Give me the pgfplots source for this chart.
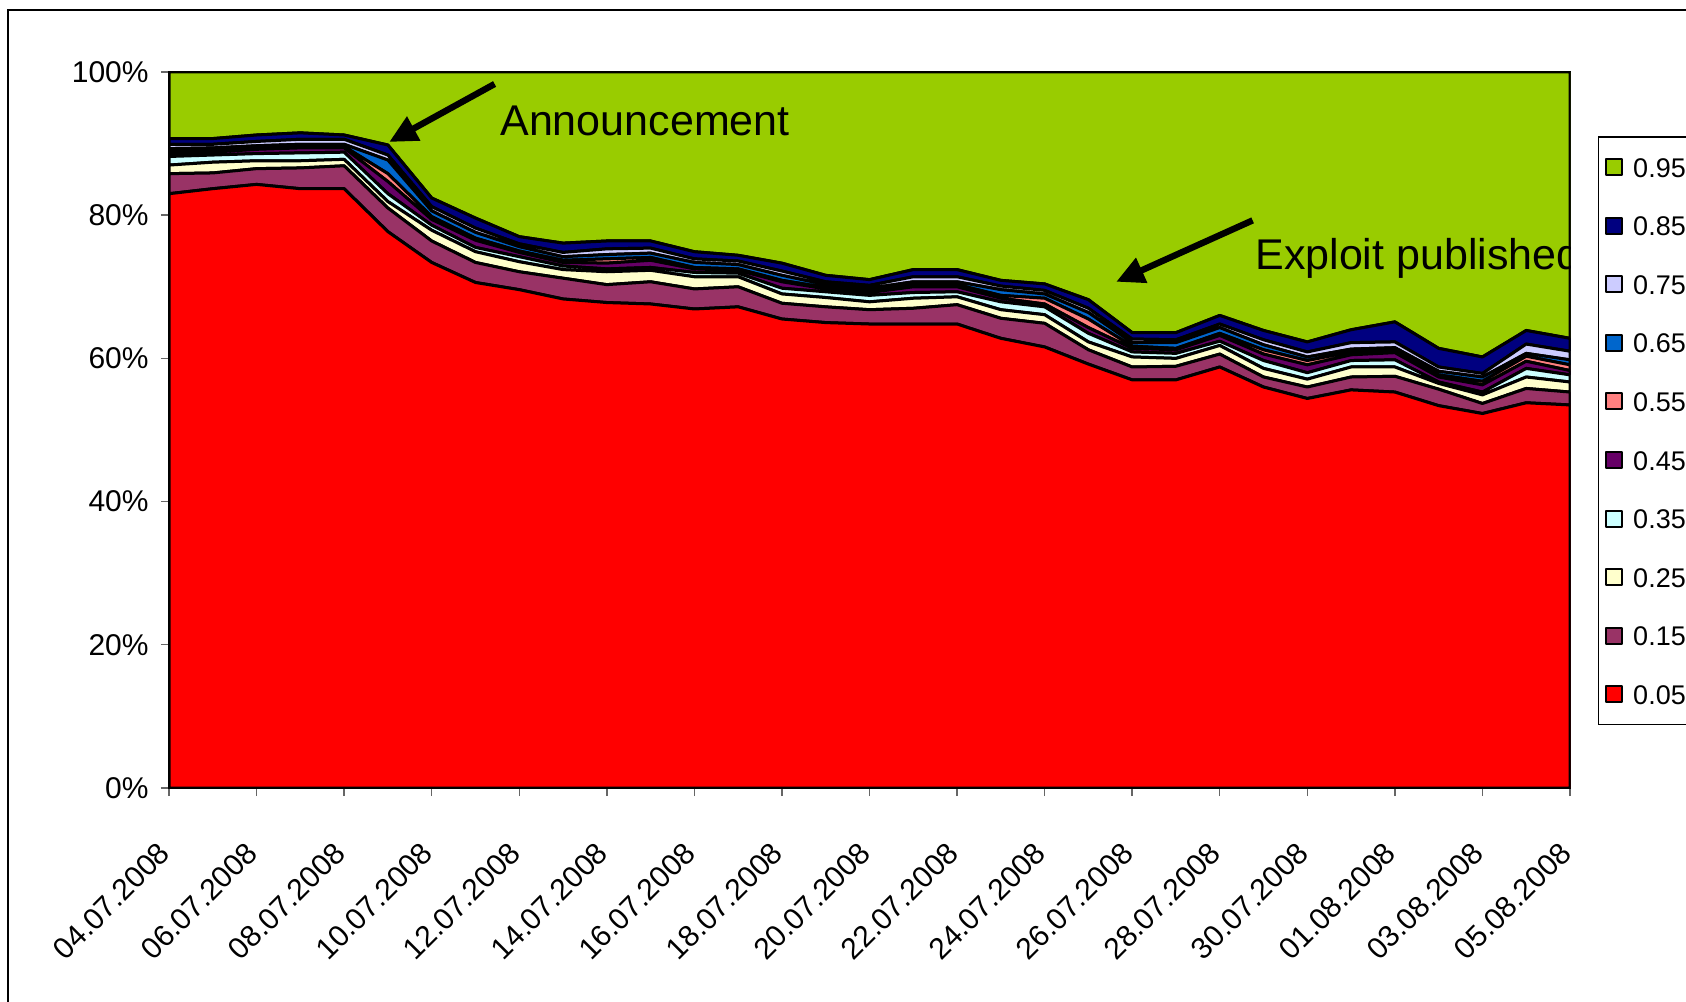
\documentclass[border=0pt]{standalone}
\usepackage{pgfplots}
\pgfplotsset{compat=1.18}
\usepackage{pgfplotstable}
\usepackage{fontspec}
\setmainfont{Liberation Sans}
\usetikzlibrary{arrows.meta}

\definecolor{c95}{HTML}{99CC00}
\definecolor{c85}{HTML}{000080}
\definecolor{c75}{HTML}{CCCCFF}
\definecolor{c65}{HTML}{0066CC}
\definecolor{c55}{HTML}{FF8080}
\definecolor{c45}{HTML}{660066}
\definecolor{c35}{HTML}{CCFFFF}
\definecolor{c25}{HTML}{FFFFCC}
\definecolor{c15}{HTML}{993366}
\definecolor{c05}{HTML}{FF0000}

\pgfplotstableread{
d r p c cy m s b l n g
0 83.0 2.8 1.2 1.2 0.4 0.4 0.3 0.6 0.8 9.3
1 83.7 2.2 1.5 1.0 0.4 0.3 0.3 0.5 0.8 9.3
2 84.3 2.2 1.1 1.0 0.6 0.2 0.3 0.6 0.9 8.8
3 83.7 2.9 1.0 1.1 0.7 0.2 0.3 0.7 0.9 8.5
4 83.7 3.2 0.9 1.0 0.6 0.2 0.3 0.7 0.6 8.8
5 77.7 3.3 0.9 1.1 1.7 1.1 1.9 0.7 1.4 10.2
6 73.4 3.0 1.5 0.7 0.8 0.4 0.8 0.6 1.2 17.6
7 70.6 2.8 1.5 0.6 1.0 0.3 0.8 0.6 1.4 20.4
8 69.6 2.5 1.4 0.7 0.6 0.2 0.6 0.4 1.0 23.0
9 68.3 2.9 1.2 0.5 0.5 0.3 0.5 0.6 1.3 23.9
10 67.8 2.5 1.8 0.4 0.8 0.6 0.6 0.8 1.1 23.6
11 67.6 3.1 1.6 0.4 1.0 0.4 0.6 0.7 1.0 23.6
12 66.9 2.8 1.7 0.6 0.5 0.2 0.7 0.5 1.0 25.1
13 67.2 2.8 1.4 0.5 0.4 0.2 0.6 0.5 0.8 25.6
14 65.5 2.2 1.3 0.8 0.9 0.2 0.7 0.6 1.1 26.7
15 65.0 2.2 1.3 0.8 0.4 0.2 0.4 0.4 0.9 28.4
16 64.8 2.0 1.1 0.9 0.4 0.2 0.4 0.4 0.8 29.0
17 64.8 2.2 1.4 0.8 0.8 0.3 0.4 0.7 1.0 27.6
18 64.8 2.7 1.1 0.7 0.7 0.3 0.4 0.7 1.0 27.6
19 62.8 2.8 1.2 1.1 0.5 0.4 0.8 0.5 0.8 29.1
20 61.6 3.3 1.2 1.1 0.4 0.8 0.6 0.5 0.9 29.6
21 59.2 2.0 1.1 1.2 0.8 1.2 0.9 0.6 1.2 31.8
22 57.0 1.8 1.4 0.7 0.5 0.3 0.5 0.5 0.9 36.4
23 57.0 1.9 1.1 0.7 0.5 0.2 0.8 0.4 1.0 36.4
24 58.8 1.8 1.2 0.6 0.8 0.3 0.8 0.5 1.2 34.0
25 56.0 1.4 1.2 1.1 0.9 0.6 0.7 0.7 1.3 36.1
26 54.4 1.6 1.1 0.9 1.1 0.6 0.5 0.7 1.4 37.7
27 55.6 1.8 1.4 0.9 0.8 0.4 0.4 0.9 1.8 36.0
28 55.3 2.2 1.3 1.0 1.0 0.4 0.3 0.8 2.8 34.9
29 53.4 2.3 0.8 0.2 0.7 0.3 0.5 0.6 2.6 38.6
30 52.3 1.4 1.2 0.4 1.0 0.5 0.6 0.5 2.3 39.8
31 53.8 2.0 1.6 1.2 1.0 0.7 0.4 1.3 1.9 36.1
32 53.5 1.8 1.4 1.0 0.6 0.8 0.7 1.2 1.8 37.2
}\data

\begin{document}
\begin{tikzpicture}[x=1pt,y=1pt]
\useasboundingbox (0,0) rectangle (843,500.5);
\draw[black, line width=0.8pt] (4,-10) rectangle (860,495.5);
\begin{axis}[
  at={(84.5pt,106.5pt)}, anchor=south west,
  scale only axis, width=700.5pt, height=358pt,
  xmin=0, xmax=32, ymin=0, ymax=100,
  stack plots=y,
  xtick={0,2,...,32},
  xticklabels={04.07.2008,06.07.2008,08.07.2008,10.07.2008,12.07.2008,14.07.2008,16.07.2008,18.07.2008,20.07.2008,22.07.2008,24.07.2008,26.07.2008,28.07.2008,30.07.2008,01.08.2008,03.08.2008,05.08.2008},
  ytick={0,20,40,60,80,100},
  yticklabels={0\%,20\%,40\%,60\%,80\%,100\%},
  tick align=outside, xtick pos=bottom, ytick pos=left,
  major tick length=4pt,
  tick style={black!60, line width=0.7pt},
  axis line style={black, line width=0.8pt},
  yticklabel style={font=\fontsize{15}{18}\selectfont, anchor=east, inner sep=0pt, xshift=-6pt},
  xticklabel style={font=\fontsize{15}{18}\selectfont, inner sep=0pt, xshift=-6pt, yshift=-22pt, rotate=45, anchor=north east},
  reverse legend,
  legend cell align=left,
  legend image code/.code={\draw[#1, draw=black, line width=1pt] (0pt,-4pt) rectangle (8pt,4pt);},
  legend style={at={(1.02,0.91)}, anchor=north west, draw=black, line width=0.6pt,
    font=\fontsize{13.5}{16}\selectfont, row sep=15.3pt, inner xsep=3.3pt, inner ysep=8pt,
    /tikz/every odd column/.append style={column sep=3pt},
    nodes={inner sep=2pt, text height=10pt, text depth=0pt}},
  every axis plot/.append style={draw=black, line width=1.5pt, line join=round},
]
\addplot[fill=c05] table[x=d,y=r]{\data} \closedcycle; \addlegendentry{0.05}
\addplot[fill=c15] table[x=d,y=p]{\data} \closedcycle; \addlegendentry{0.15}
\addplot[fill=c25] table[x=d,y=c]{\data} \closedcycle; \addlegendentry{0.25}
\addplot[fill=c35] table[x=d,y=cy]{\data} \closedcycle; \addlegendentry{0.35}
\addplot[fill=c45] table[x=d,y=m]{\data} \closedcycle; \addlegendentry{0.45}
\addplot[fill=c55] table[x=d,y=s]{\data} \closedcycle; \addlegendentry{0.55}
\addplot[fill=c65] table[x=d,y=b]{\data} \closedcycle; \addlegendentry{0.65}
\addplot[fill=c75] table[x=d,y=l]{\data} \closedcycle; \addlegendentry{0.75}
\addplot[fill=c85] table[x=d,y=n]{\data} \closedcycle; \addlegendentry{0.85}
\addplot[fill=c95] table[x=d,y=g]{\data} \closedcycle; \addlegendentry{0.95}
\end{axis}
\draw[line width=3.2pt, -{Triangle[length=14pt,width=13pt]}] (247.3,458.5) -- (194.6,429.5);
\node[anchor=west, inner sep=0pt, font=\fontsize{21.5}{25}\selectfont] at (250,439.8) {Announcement};
\begin{scope}
\clip (84.5,106.5) rectangle (785,464.5);
\draw[line width=3.2pt, -{Triangle[length=14pt,width=13pt]}] (626.3,390.3) -- (558.1,359.6);
\node[anchor=west, inner sep=0pt, font=\fontsize{21.5}{25}\selectfont] at (627.5,371.5) {Exploit published};
\end{scope}
\end{tikzpicture}
\end{document}
